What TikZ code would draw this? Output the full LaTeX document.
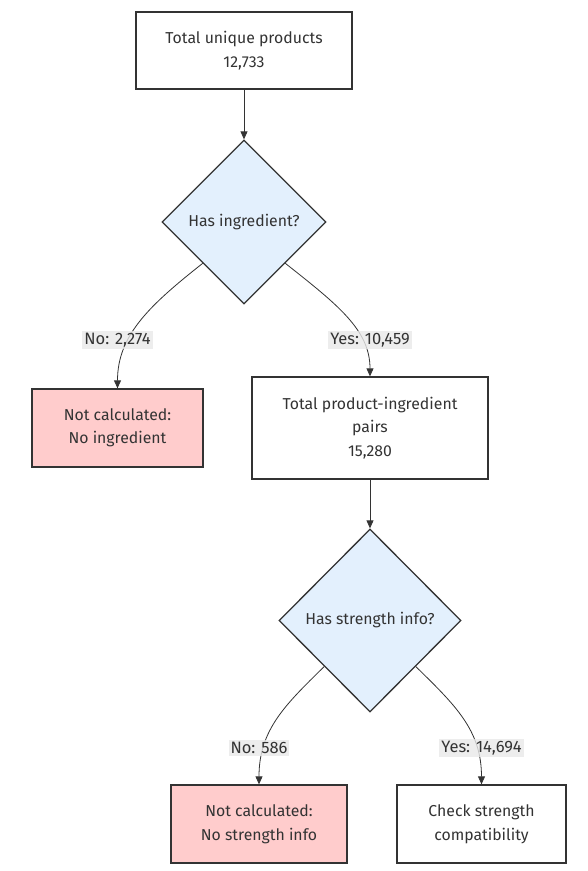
\documentclass[tikz,border=0pt]{standalone}
\usepackage{fontspec}
\setmainfont{Fira Sans}
\usetikzlibrary{shapes.geometric,arrows.meta,calc}
\definecolor{strokec}{HTML}{333333}
\definecolor{decfill}{HTML}{E3F0FD}
\definecolor{redfill}{HTML}{FFCCCC}
\definecolor{lblfill}{HTML}{E8E8E8}
\definecolor{txt}{HTML}{333333}
\begin{document}
\begin{tikzpicture}[x=1pt,y=-1pt,
  every node/.style={font=\fontsize{15.8}{23.5}\selectfont, text=txt},
  procbox/.style={draw=strokec, line width=1.3pt, fill=white, align=center, inner sep=0pt},
  failbox/.style={procbox, fill=redfill},
  decision/.style={diamond, draw=strokec, line width=1.3pt, fill=decfill, align=center, inner sep=0pt},
  elabel/.style={fill=lblfill, fill opacity=0.8, text opacity=1, inner sep=2pt, font=\fontsize{16.5}{20}\selectfont},
  conn/.style={draw=strokec, line width=0.8pt, -{Triangle[length=8pt,width=7pt]}}
]
\useasboundingbox (0,0) rectangle (587,871);
\node[procbox, minimum width=216pt, minimum height=77pt] (top) at (244,50.5) {Total unique products\\12,733};
\node[decision, minimum width=164pt, minimum height=164pt] (d1) at (244,222) {Has ingredient?};
\node[failbox, minimum width=171pt, minimum height=78pt] (noing) at (117.5,428) {Not calculated:\\No ingredient};
\node[procbox, minimum width=236pt, minimum height=102pt] (pairs) at (370,428) {Total product-ingredient\\pairs\\15,280};
\node[decision, minimum width=182pt, minimum height=183pt] (d2) at (370,620.5) {Has strength info?};
\node[failbox, minimum width=176pt, minimum height=78pt] (nostr) at (259,824) {Not calculated:\\No strength info};
\node[procbox, minimum width=169pt, minimum height=78pt] (check) at (481.5,824) {Check strength\\compatibility};

\coordinate (d1l) at ($(d1.west)!0.5!(d1.south)$);
\coordinate (d1r) at ($(d1.east)!0.5!(d1.south)$);
\coordinate (d2l) at ($(d2.west)!0.5!(d2.south)$);
\coordinate (d2r) at ($(d2.east)!0.5!(d2.south)$);

\draw[conn] (top.south) -- (d1.north);
\draw[conn] (d1l) .. controls (150,305) and (117.5,335) .. (noing.north);
\draw[conn] (d1r) .. controls (338,305) and (370,330) .. (pairs.north);
\draw[conn] (pairs.south) -- (d2.north);
\draw[conn] (d2l) .. controls (285,705) and (259,730) .. (nostr.north);
\draw[conn] (d2r) .. controls (455,705) and (481.5,730) .. (check.north);

\node[elabel] (l1) at (117.5,340) {No: 2,274};
\node[elabel] (l2) at (370,340) {Yes: 10,459};
\node[elabel] (l3) at (259,748) {No: 586};
\node[elabel] (l4) at (481.5,748) {Yes: 14,694};
\end{tikzpicture}
\end{document}
